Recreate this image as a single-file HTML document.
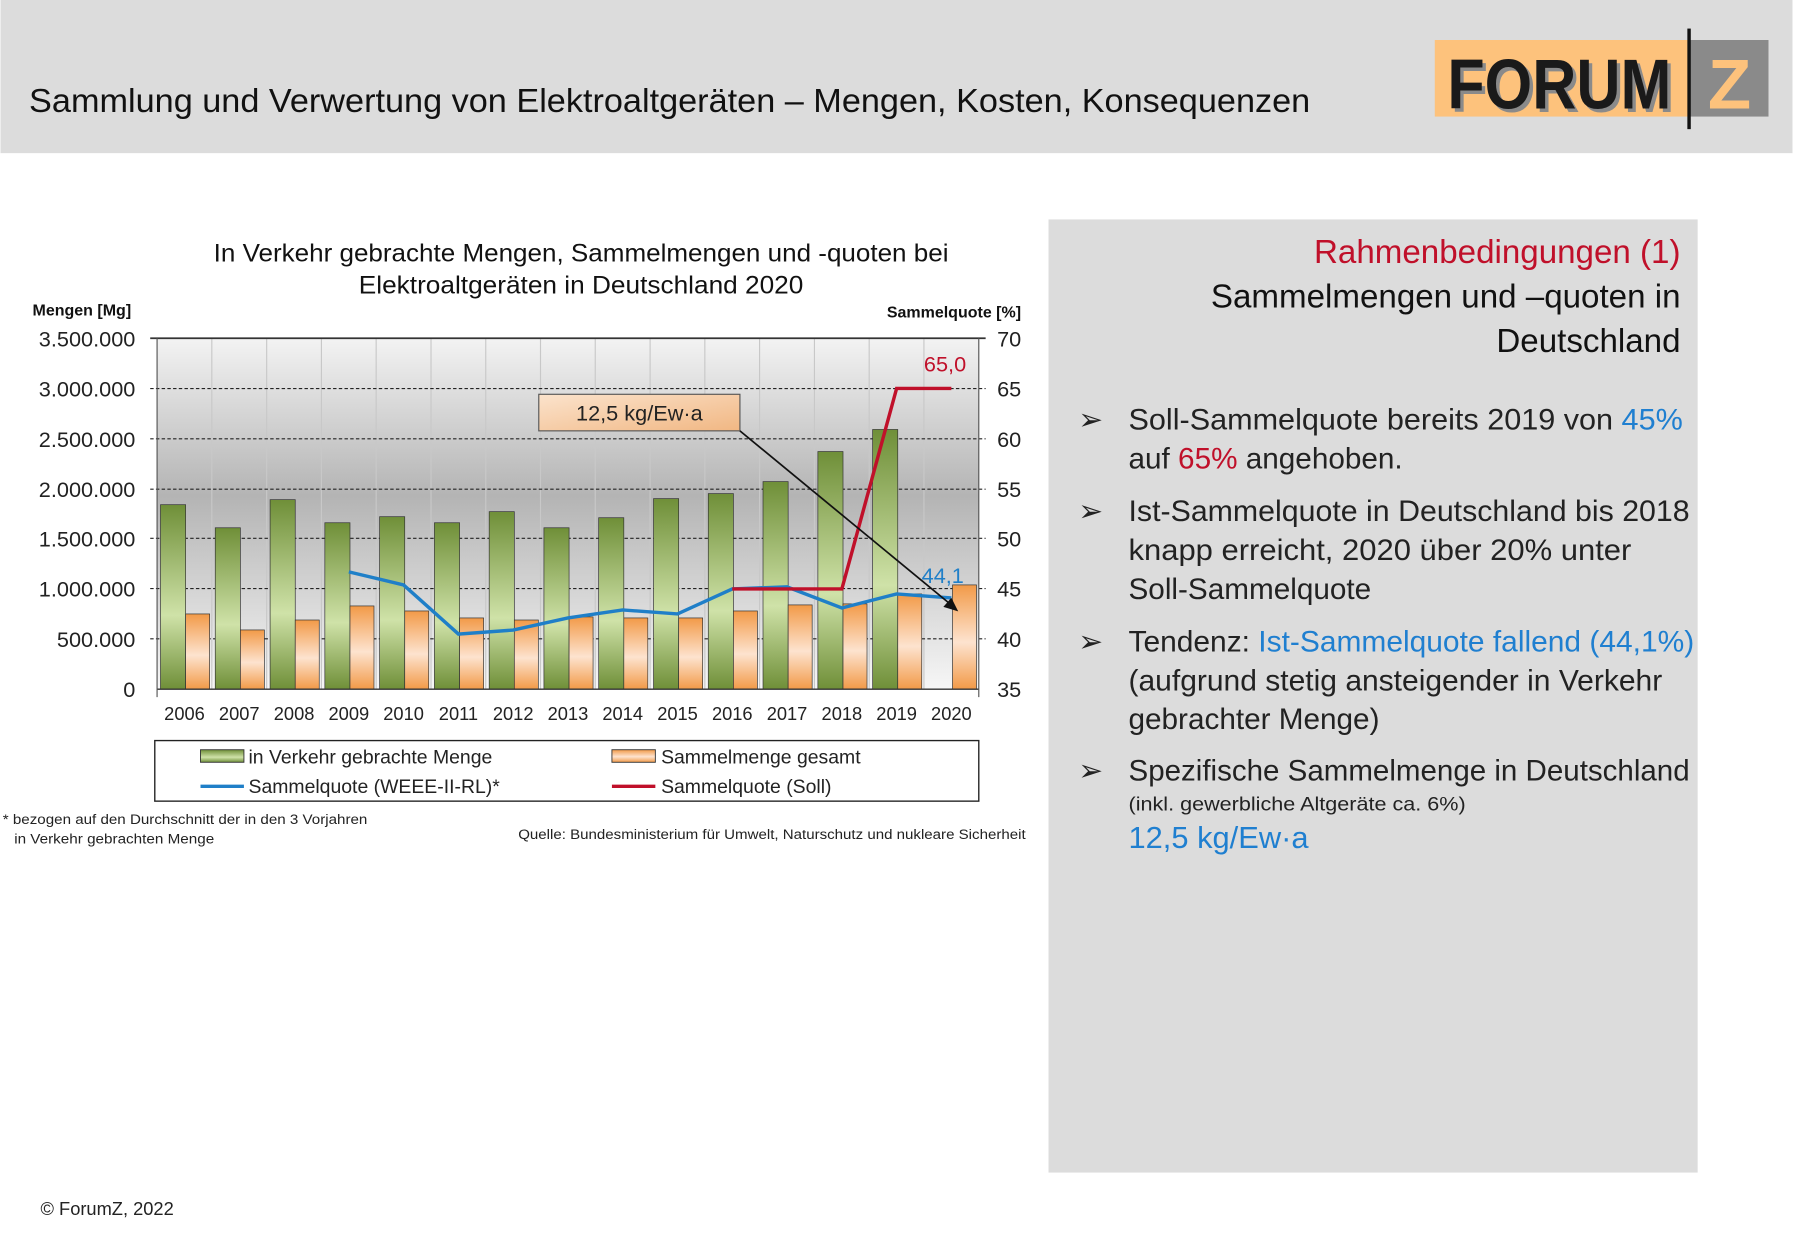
<!DOCTYPE html>
<html><head><meta charset="utf-8"><style>html,body{margin:0;padding:0;background:#fff}svg{display:block}</style></head>
<body>
<svg xmlns="http://www.w3.org/2000/svg" width="1793" height="1240" viewBox="0 0 1568 1085" font-family="Liberation Sans, DejaVu Sans, sans-serif">
<defs>
<linearGradient id="bg" x1="0" y1="0" x2="0" y2="1">
<stop offset="0" stop-color="#f3f3f3"/><stop offset="0.45" stop-color="#b4b4b4"/><stop offset="1" stop-color="#f6f6f6"/></linearGradient>
<linearGradient id="gr" x1="0" y1="0" x2="0" y2="1">
<stop offset="0" stop-color="#6f8f38"/><stop offset="0.6" stop-color="#cfe2a8"/><stop offset="1" stop-color="#6f8f38"/></linearGradient>
<linearGradient id="or" x1="0" y1="0" x2="0" y2="1">
<stop offset="0" stop-color="#f29a48"/><stop offset="0.55" stop-color="#fde3cf"/><stop offset="1" stop-color="#f29a48"/></linearGradient>
<linearGradient id="box" x1="0" y1="0" x2="1" y2="1">
<stop offset="0" stop-color="#fbe3cc"/><stop offset="1" stop-color="#f1b783"/></linearGradient>
</defs>
<rect x="0" y="0" width="1568" height="134" fill="#dcdcdc"/>
<text x="25" y="98" font-size="29" fill="#111" textLength="1121" lengthAdjust="spacingAndGlyphs">Sammlung und Verwertung von Elektroaltgeräten – Mengen, Kosten, Konsequenzen</text>
<rect x="1255" y="35" width="222" height="67" fill="#fdc27c"/>
<rect x="1477" y="35" width="70" height="67" fill="#8a8a8a"/>
<text x="1266" y="95" font-size="62" font-weight="bold" fill="#8a8a8a" textLength="196" lengthAdjust="spacingAndGlyphs" transform="translate(3,3)">FORUM</text>
<text x="1266" y="95" font-size="62" font-weight="bold" fill="#1a1a1a" textLength="196" lengthAdjust="spacingAndGlyphs">FORUM</text>
<text x="1494" y="95" font-size="62" font-weight="bold" fill="#fdc27c">Z</text>
<rect x="1476" y="25" width="3" height="88" fill="#111"/>

<rect x="917" y="192" width="568" height="834" fill="#dcdcdc"/>
<g font-size="29" text-anchor="end">
<text x="1470" y="230" fill="#c0102a">Rahmenbedingungen (1)</text>
<text x="1470" y="269" fill="#111">Sammelmengen und –quoten in</text>
<text x="1470" y="308" fill="#111">Deutschland</text>
</g>
<g font-size="26" fill="#222">
<text x="943" y="376">➢</text><text x="943" y="456">➢</text><text x="943" y="570">➢</text><text x="943" y="683">➢</text>
<text x="987" y="376" textLength="485" lengthAdjust="spacingAndGlyphs">Soll-Sammelquote bereits 2019 von <tspan fill="#1f7fd0">45%</tspan></text>
<text x="987" y="410">auf <tspan fill="#c0102a">65%</tspan> angehoben.</text>
<text x="987" y="456" textLength="491" lengthAdjust="spacingAndGlyphs">Ist-Sammelquote in Deutschland bis 2018</text>
<text x="987" y="490" textLength="440" lengthAdjust="spacingAndGlyphs">knapp erreicht, 2020 über 20% unter</text>
<text x="987" y="524">Soll-Sammelquote</text>
<text x="987" y="570" textLength="495" lengthAdjust="spacingAndGlyphs">Tendenz: <tspan fill="#1f7fd0">Ist-Sammelquote fallend (44,1%)</tspan></text>
<text x="987" y="604" textLength="467" lengthAdjust="spacingAndGlyphs">(aufgrund stetig ansteigender in Verkehr</text>
<text x="987" y="638">gebrachter Menge)</text>
<text x="987" y="683" textLength="491" lengthAdjust="spacingAndGlyphs">Spezifische Sammelmenge in Deutschland</text>
<text x="987" y="709" font-size="17" textLength="295" lengthAdjust="spacingAndGlyphs">(inkl. gewerbliche Altgeräte ca. 6%)</text>
<text x="987" y="742" font-size="27" fill="#1f7fd0">12,5 kg/Ew·a</text>
</g>

<g font-size="22" fill="#111" text-anchor="middle">
<text x="508" y="229" textLength="643" lengthAdjust="spacingAndGlyphs">In Verkehr gebrachte Mengen, Sammelmengen und -quoten bei</text>
<text x="508" y="257" textLength="389" lengthAdjust="spacingAndGlyphs">Elektroaltgeräten in Deutschland 2020</text>
</g>
<text x="28" y="276" font-size="14" font-weight="bold" fill="#111">Mengen [Mg]</text>
<text x="893" y="278" font-size="14" font-weight="bold" fill="#111" text-anchor="end">Sammelquote [%]</text>

<rect x="137" y="296" width="719" height="307" fill="url(#bg)"/>
<g stroke="#c8c8c8" stroke-width="1">
<line x1="184.9" y1="296" x2="184.9" y2="603"/><line x1="232.9" y1="296" x2="232.9" y2="603"/><line x1="280.8" y1="296" x2="280.8" y2="603"/><line x1="328.7" y1="296" x2="328.7" y2="603"/><line x1="376.7" y1="296" x2="376.7" y2="603"/><line x1="424.6" y1="296" x2="424.6" y2="603"/><line x1="472.5" y1="296" x2="472.5" y2="603"/><line x1="520.4" y1="296" x2="520.4" y2="603"/><line x1="568.4" y1="296" x2="568.4" y2="603"/><line x1="616.3" y1="296" x2="616.3" y2="603"/><line x1="664.2" y1="296" x2="664.2" y2="603"/><line x1="712.2" y1="296" x2="712.2" y2="603"/><line x1="760.1" y1="296" x2="760.1" y2="603"/><line x1="808" y1="296" x2="808" y2="603"/>
</g>
<g stroke="#222" stroke-width="1" stroke-dasharray="3,2">
<line x1="131" y1="340" x2="862" y2="340"/><line x1="131" y1="384" x2="862" y2="384"/><line x1="131" y1="428" x2="862" y2="428"/><line x1="131" y1="471" x2="862" y2="471"/><line x1="131" y1="515" x2="862" y2="515"/><line x1="131" y1="559" x2="862" y2="559"/>
</g>
<line x1="131" y1="296" x2="862" y2="296" stroke="#333" stroke-width="1.5"/>
<g stroke="#333" stroke-width="0.6">
<rect x="140" y="441.6" width="22" height="161.4" fill="url(#gr)"/>
<rect x="187.9" y="461.8" width="22" height="141.2" fill="url(#gr)"/>
<rect x="235.9" y="437.2" width="22" height="165.8" fill="url(#gr)"/>
<rect x="283.8" y="457.4" width="22" height="145.6" fill="url(#gr)"/>
<rect x="331.7" y="452.1" width="22" height="150.9" fill="url(#gr)"/>
<rect x="379.7" y="457.4" width="22" height="145.6" fill="url(#gr)"/>
<rect x="427.6" y="447.7" width="22" height="155.3" fill="url(#gr)"/>
<rect x="475.5" y="461.8" width="22" height="141.2" fill="url(#gr)"/>
<rect x="523.4" y="453" width="22" height="150" fill="url(#gr)"/>
<rect x="571.4" y="436.3" width="22" height="166.7" fill="url(#gr)"/>
<rect x="619.3" y="431.9" width="22" height="171.1" fill="url(#gr)"/>
<rect x="667.2" y="421.4" width="22" height="181.6" fill="url(#gr)"/>
<rect x="715.2" y="395.1" width="22" height="207.9" fill="url(#gr)"/>
<rect x="763.1" y="375.8" width="22" height="227.2" fill="url(#gr)"/>
<rect x="162" y="537.2" width="21" height="65.8" fill="url(#or)"/>
<rect x="209.9" y="551.2" width="21" height="51.8" fill="url(#or)"/>
<rect x="257.9" y="542.5" width="21" height="60.5" fill="url(#or)"/>
<rect x="305.8" y="530.2" width="21" height="72.8" fill="url(#or)"/>
<rect x="353.7" y="534.6" width="21" height="68.4" fill="url(#or)"/>
<rect x="401.7" y="540.7" width="21" height="62.3" fill="url(#or)"/>
<rect x="449.6" y="542.5" width="21" height="60.5" fill="url(#or)"/>
<rect x="497.5" y="539.8" width="21" height="63.2" fill="url(#or)"/>
<rect x="545.4" y="540.7" width="21" height="62.3" fill="url(#or)"/>
<rect x="593.4" y="540.7" width="21" height="62.3" fill="url(#or)"/>
<rect x="641.3" y="534.6" width="21" height="68.4" fill="url(#or)"/>
<rect x="689.2" y="529.3" width="21" height="73.7" fill="url(#or)"/>
<rect x="737.2" y="528.4" width="21" height="74.6" fill="url(#or)"/>
<rect x="785.1" y="519.7" width="21" height="83.3" fill="url(#or)"/>
<rect x="833" y="511.8" width="21" height="91.2" fill="url(#or)"/>
</g>
<line x1="137" y1="603" x2="856" y2="603" stroke="#333" stroke-width="1.2"/>
<line x1="137" y1="296" x2="137" y2="610" stroke="#555" stroke-width="1"/>
<line x1="856" y1="296" x2="856" y2="610" stroke="#555" stroke-width="1"/>
<polyline fill="none" stroke="#1f7fc8" stroke-width="3" points="304.8,500.4 352.7,511.8 400.7,554.8 448.6,551.3 496.5,540.7 544.4,533.7 592.4,537.2 640.3,515.3 688.2,513.5 736.2,532 784.1,519.7 832,523.2"/>
<polyline fill="none" stroke="#c0102a" stroke-width="3" points="640.3,515.3 736.2,515.3 784.1,339.9 832,339.9"/>
<text x="808" y="325" font-size="19" fill="#c0102a">65,0</text>
<text x="806" y="510" font-size="19" fill="#1f7fc8">44,1</text>
<rect x="471" y="345" width="176" height="32" fill="url(#box)" stroke="#555" stroke-width="1"/>
<text x="559" y="368" font-size="19" fill="#222" text-anchor="middle">12,5 kg/Ew·a</text>
<line x1="647" y1="377" x2="834" y2="531" stroke="#111" stroke-width="1.5"/>
<polygon points="838,535 825,531 832,523" fill="#111"/>

<g font-size="19" fill="#222" text-anchor="end">
<text x="118" y="303">3.500.000</text><text x="118" y="347">3.000.000</text><text x="118" y="391">2.500.000</text><text x="118" y="435">2.000.000</text><text x="118" y="478">1.500.000</text><text x="118" y="522">1.000.000</text><text x="118" y="566">500.000</text><text x="118" y="610">0</text>
</g>
<g font-size="19" fill="#222">
<text x="872" y="303">70</text><text x="872" y="347">65</text><text x="872" y="391">60</text><text x="872" y="435">55</text><text x="872" y="478">50</text><text x="872" y="522">45</text><text x="872" y="566">40</text><text x="872" y="610">35</text>
</g>
<g font-size="16" fill="#222" text-anchor="middle">
<text x="161" y="630">2006</text><text x="208.9" y="630">2007</text><text x="256.9" y="630">2008</text><text x="304.8" y="630">2009</text><text x="352.7" y="630">2010</text><text x="400.7" y="630">2011</text><text x="448.6" y="630">2012</text><text x="496.5" y="630">2013</text><text x="544.4" y="630">2014</text><text x="592.4" y="630">2015</text><text x="640.3" y="630">2016</text><text x="688.2" y="630">2017</text><text x="736.2" y="630">2018</text><text x="784.1" y="630">2019</text><text x="832" y="630">2020</text>
</g>
<rect x="135" y="648" width="721" height="53" fill="#fff" stroke="#222" stroke-width="1.2"/>
<rect x="175" y="656" width="38" height="11" fill="url(#gr)" stroke="#333" stroke-width="0.8"/>
<rect x="535" y="656" width="38" height="11" fill="url(#or)" stroke="#333" stroke-width="0.8"/>
<line x1="175" y1="688" x2="213" y2="688" stroke="#1f7fc8" stroke-width="3"/>
<line x1="535" y1="688" x2="573" y2="688" stroke="#c0102a" stroke-width="3"/>
<g font-size="17" fill="#222">
<text x="217" y="668">in Verkehr gebrachte Menge</text>
<text x="578" y="668">Sammelmenge gesamt</text>
<text x="217" y="694">Sammelquote (WEEE-II-RL)*</text>
<text x="578" y="694">Sammelquote (Soll)</text>
</g>
<g font-size="12" fill="#222">
<text x="2" y="721" textLength="319" lengthAdjust="spacingAndGlyphs">* bezogen auf den Durchschnitt der in den 3 Vorjahren</text>
<text x="12" y="738" textLength="175" lengthAdjust="spacingAndGlyphs">in Verkehr gebrachten Menge</text>
<text x="453" y="734" textLength="444" lengthAdjust="spacingAndGlyphs">Quelle: Bundesministerium für Umwelt, Naturschutz und nukleare Sicherheit</text>
</g>
<text x="35" y="1063" font-size="16" fill="#222">© ForumZ, 2022</text>
</svg>
</body></html>
